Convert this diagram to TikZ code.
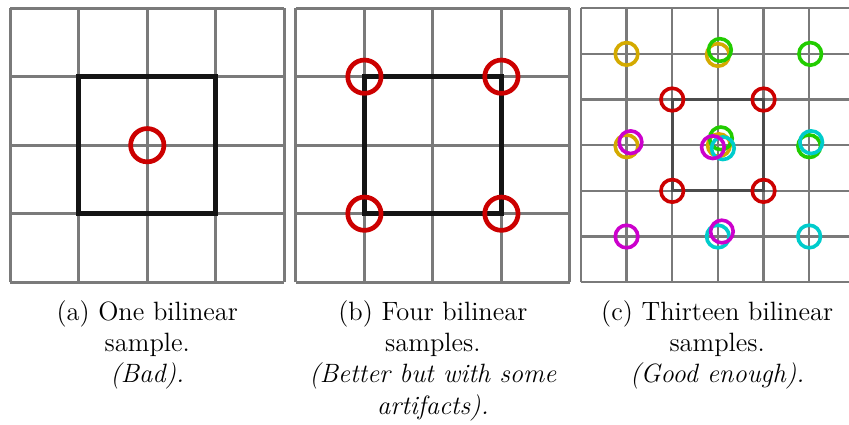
\documentclass[tikz,border=0pt]{standalone}

\definecolor{gridgray}{HTML}{7A7A7A}
\definecolor{samplered}{HTML}{CC0000}
\definecolor{sampleyellow}{HTML}{D4AA00}
\definecolor{samplegreen}{HTML}{22CC00}
\definecolor{samplemagenta}{HTML}{CC00CC}
\definecolor{samplecyan}{HTML}{00CCCC}

\tikzset{
  texel/.style={gridgray, line width=1.25pt},
  footprint/.style={black!92, line width=2.2pt},
  bigtap/.style={samplered, line width=1.95pt},
  smalltap/.style={line width=1.5pt},
  caption/.style={anchor=north, inner sep=0pt, align=center,
    font=\fontsize{11}{13}\selectfont}
}

\begin{document}
\begin{tikzpicture}
    \useasboundingbox (0,0) rectangle (12.394,6.19);

    % (a) one tap in the middle
    \begin{scope}[shift={(0.15,2.07)}]
        \draw[texel] (0,0) grid (4,4);
        \draw[footprint] (1,1) rectangle (3,3);
        \draw[bigtap] (2,2) circle (0.243);
    \end{scope}

    % (b) four taps on the corners
    \begin{scope}[shift={(4.32,2.07)}]
        \draw[texel] (0,0) grid (4,4);
        \draw[footprint] (1,1) rectangle (3,3);
        \foreach \x in {1,3}
            \foreach \y in {1,3}
                \draw[bigtap] (\x,\y) circle (0.243);
    \end{scope}

    % (c) thirteen taps
    \begin{scope}[shift={(8.48,2.07)}]
        \draw[texel, line width=1pt, step=2/3] (0,0) grid (4,4);
        \draw[black!70, line width=1.3pt] (4/3,4/3) rectangle (8/3,8/3);
        \foreach \x in {4/3,8/3}
            \foreach \y in {4/3,8/3}
                \draw[smalltap, samplered] (\x,\y) circle (0.165);
        \foreach \p in {(0.667,3.333),(2,3.318),(0.667,1.985),(2.015,2)}
            \draw[smalltap, sampleyellow] \p circle (0.165);
        \foreach \p in {(2.03,3.39),(3.348,3.333),(3.333,1.985),(2.044,2.1)}
            \draw[smalltap, samplegreen] \p circle (0.165);
        \foreach \p in {(2.073,1.956),(3.362,2.044),(2,0.667),(3.333,0.667)}
            \draw[smalltap, samplecyan] \p circle (0.165);
        \foreach \p in {(0.725,2.044),(1.927,1.971),(0.667,0.667),(2.058,0.74)}
            \draw[smalltap, samplemagenta] \p circle (0.165);
    \end{scope}

    \node[caption] (capa) at (2.15,1.81) {(a) One bilinear\\ sample.\\ \textit{(Bad).}};
    \node[caption] (capb) at (6.32,1.81) {(b) Four bilinear\\ samples.\\ \textit{(Better but with some}\\ \textit{artifacts).}};
    \node[caption] (capc) at (10.47,1.81) {(c) Thirteen bilinear\\ samples.\\ \textit{(Good enough).}};
\end{tikzpicture}
\end{document}
